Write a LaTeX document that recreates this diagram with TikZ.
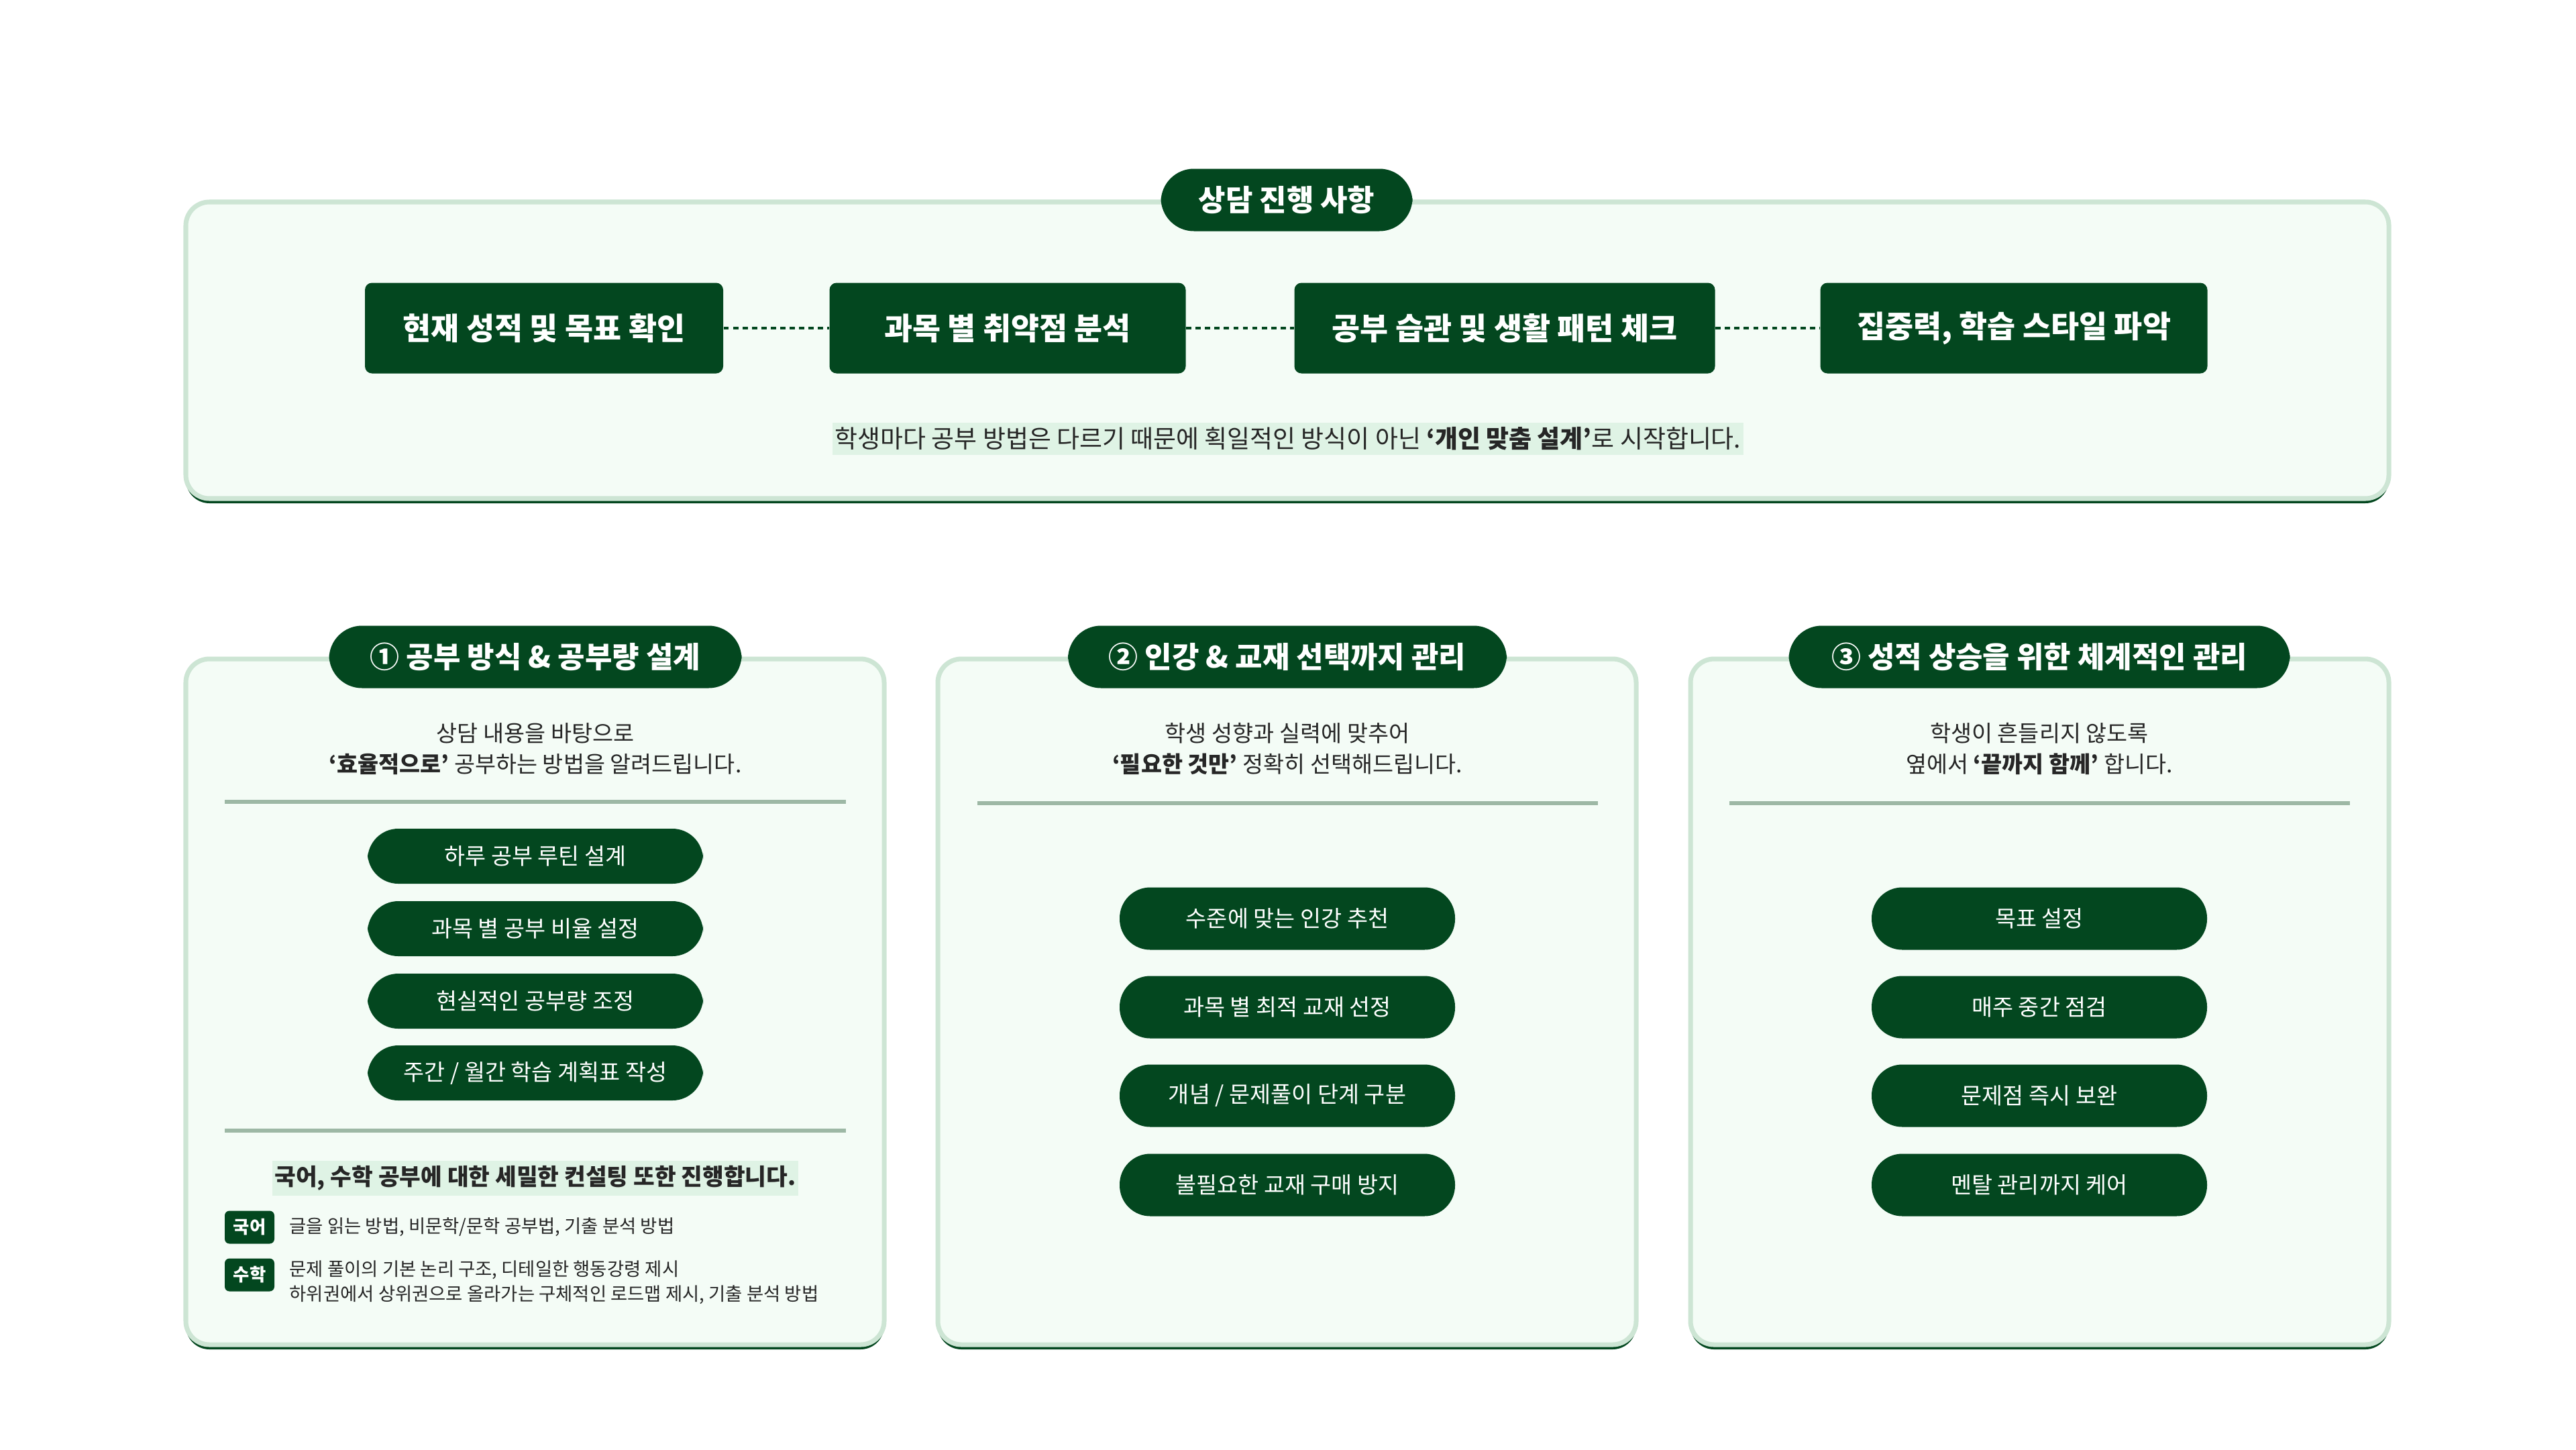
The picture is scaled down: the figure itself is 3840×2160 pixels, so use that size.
\documentclass[tikz,border=0pt]{standalone}
\usepackage{fontspec}
\setmainfont{Noto Sans CJK KR}
\usetikzlibrary{positioning}
\definecolor{dg}{HTML}{03471F}
\definecolor{pf}{HTML}{F4FCF6}
\definecolor{pb}{HTML}{CDE5D4}
\definecolor{hl}{HTML}{DFF3E5}
\definecolor{dv}{HTML}{9DB8A5}
\tikzset{
 panel/.style={fill=pf,draw=pb,line width=2pt,rounded corners=10pt},
 pshadow/.style={fill=dg,draw=none,rounded corners=10pt},
 titlepill/.style={fill=dg,text=white,rounded corners=14pt,minimum height=93*0.01cm,font=\fontsize{12.5}{14}\selectfont\bfseries,inner xsep=12pt},
 stepbox/.style={fill=dg,text=white,rounded corners=3pt,minimum height=135*0.01cm,font=\fontsize{13}{15}\selectfont\bfseries},
 item/.style={fill=dg,text=white,rounded corners=13pt,minimum width=500*0.01cm,minimum height=82*0.01cm,font=\fontsize{9.6}{11}\selectfont},
 itemb/.style={item,minimum height=93*0.01cm},
 sub/.style={text=black!85,font=\fontsize{9.6}{13}\selectfont,align=center},
 tag/.style={fill=dg,text=white,rounded corners=2pt,minimum width=74*0.01cm,minimum height=49*0.01cm,inner sep=0pt,font=\fontsize{7.5}{9}\selectfont\bfseries},
 small/.style={text=black!85,font=\fontsize{7.8}{10}\selectfont,anchor=west,align=left,inner sep=0pt},
 conn/.style={dg,line width=1.2pt,dash pattern=on 2.2pt off 1.8pt},
 divl/.style={dv,line width=1.5pt}
}
\begin{document}
\begin{tikzpicture}[x=0.01cm,y=-0.01cm]
\useasboundingbox[fill=white] (0,0) rectangle (3840,2160);
% top panel
\fill[pshadow] (277,306) rectangle (3561,750);
\draw[panel] (277,301) rectangle (3561,743);
\node[titlepill,minimum width=375*0.01cm] (t0) at (1918,298) {상담 진행 사항};
\node[stepbox,minimum width=534*0.01cm] (s1) at (811,489) {현재 성적 및 목표 확인};
\node[stepbox,minimum width=531*0.01cm] (s2) at (1502,489) {과목 별 취약점 분석};
\node[stepbox,minimum width=627*0.01cm] (s3) at (2243,489) {공부 습관 및 생활 패턴 체크};
\node[stepbox,minimum width=577*0.01cm] (s4) at (3002,489) {집중력, 학습 스타일 파악};
\draw[conn] (s1) -- (s2); \draw[conn] (s2) -- (s3); \draw[conn] (s3) -- (s4);
\node[fill=hl,text=black!85,font=\fontsize{10.5}{12}\selectfont,inner xsep=1pt,inner ysep=2pt] (cap) at (1920,654) {학생마다 공부 방법은 다르기 때문에 획일적인 방식이 아닌 \textbf{‘개인 맞춤 설계’}로 시작합니다.};
% bottom panels
\foreach \x in {277,1398,2520}{
 \fill[pshadow] (\x,987) rectangle (\x+1041,2011);
 \draw[panel] (\x,982) rectangle (\x+1041,2004);
}
% panel 1
\node[titlepill,minimum width=615*0.01cm] (p1) at (798,979) {① 공부 방식 \& 공부량 설계};
\node[sub] (d1) at (798,1116) {상담 내용을 바탕으로\\\textbf{‘효율적으로’} 공부하는 방법을 알려드립니다.};
\draw[divl] (335,1195) -- (1261,1195);
\node[item] (a1) at (798,1276) {하루 공부 루틴 설계};
\node[item] (a2) at (798,1384) {과목 별 공부 비율 설정};
\node[item] (a3) at (798,1492) {현실적인 공부량 조정};
\node[item] (a4) at (798,1599) {주간 / 월간 학습 계획표 작성};
\draw[divl] (335,1685) -- (1261,1685);
\node[fill=hl,text=black!85,font=\fontsize{9.8}{11}\selectfont\bfseries,inner xsep=1pt,inner ysep=2pt] (kb) at (798,1756) {국어, 수학 공부에 대한 세밀한 컨설팅 또한 진행합니다.};
\node[tag] (k1) at (372,1829) {국어};
\node[small] (k1t) at (431,1829) {글을 읽는 방법, 비문학/문학 공부법, 기출 분석 방법};
\node[tag] (k2) at (372,1900) {수학};
\node[small] (k2t) at (431,1893) {문제 풀이의 기본 논리 구조, 디테일한 행동강령 제시};
\node[small] (k2u) at (431,1930) {하위권에서 상위권으로 올라가는 구체적인 로드맵 제시, 기출 분석 방법};
% panel 2
\node[titlepill,minimum width=654*0.01cm] (p2) at (1919,979) {② 인강 \& 교재 선택까지 관리};
\node[sub] (d2) at (1919,1116) {학생 성향과 실력에 맞추어\\\textbf{‘필요한 것만’} 정확히 선택해드립니다.};
\draw[divl] (1457,1197) -- (2382,1197);
\node[itemb] (b1) at (1919,1369) {수준에 맞는 인강 추천};
\node[itemb] (b2) at (1919,1501) {과목 별 최적 교재 선정};
\node[itemb] (b3) at (1919,1633) {개념 / 문제풀이 단계 구분};
\node[itemb] (b4) at (1919,1766) {불필요한 교재 구매 방지};
% panel 3
\node[titlepill,minimum width=747*0.01cm] (p3) at (3040,979) {③ 성적 상승을 위한 체계적인 관리};
\node[sub] (d3) at (3040,1116) {학생이 흔들리지 않도록\\옆에서 \textbf{‘끝까지 함께’} 합니다.};
\draw[divl] (2578,1197) -- (3503,1197);
\node[itemb] (c1) at (3040,1369) {목표 설정};
\node[itemb] (c2) at (3040,1501) {매주 중간 점검};
\node[itemb] (c3) at (3040,1633) {문제점 즉시 보완};
\node[itemb] (c4) at (3040,1766) {멘탈 관리까지 케어};
\end{tikzpicture}
\end{document}
